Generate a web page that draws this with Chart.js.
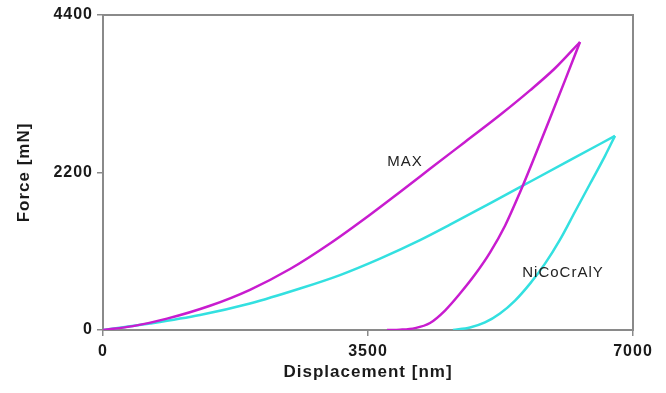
<!DOCTYPE html>
<html>
<head>
  <title>Load-displacement curves</title>
  <script src="https://cdn.jsdelivr.net/npm/chart.js"></script>
  <style>
    body {
      margin: 0;
      padding: 0;
      background: #fff;
    }
    canvas {
      display: block;
    }
  </style>
</head>
<body>
  <canvas id="indentChart" width="666" height="393"></canvas>

  <script>
    // axis ticks
    const xTicks = [0, 3500, 7000];
    const yTicks = [0, 2200, 4400];

    // MAX coating: loading and unloading branches (nm, mN)
    const maxLoadX = [0, 396, 845, 1413, 1941, 2470, 2998, 3527, 3923, 4319, 4781, 5243, 5640, 5970, 6300];
    const maxLoadY = [0, 54, 159, 339, 562, 852, 1209, 1611, 1929, 2251, 2627, 3003, 3347, 3656, 4023];
    const maxUnloadX = [3751, 3923, 4121, 4319, 4517, 4715, 4913, 5111, 5310, 5508, 5706, 5904, 6102, 6300];
    const maxUnloadY = [0, 4, 26, 98, 272, 509, 774, 1081, 1457, 1925, 2434, 2957, 3487, 4023];

    // NiCoCrAlY coating
    const nicoLoadX = [0, 291, 621, 1281, 1941, 2602, 3130, 3659, 4187, 4583, 5111, 5640, 6168, 6762];
    const nicoLoadY = [0, 42, 91, 209, 370, 579, 767, 997, 1255, 1471, 1770, 2071, 2372, 2712];
    const nicoUnloadX = [4623, 4847, 5045, 5243, 5442, 5640, 5838, 6036, 6234, 6433, 6631, 6762];
    const nicoUnloadY = [0, 35, 105, 230, 411, 648, 927, 1262, 1652, 2043, 2433, 2712];

    // curve labels placed at data coordinates
    const curveLabels = [
      { text: 'MAX', x: 3989, y: 2350 },
      { text: 'NiCoCrAlY', x: 6076, y: 802 }
    ];

    const magenta = '#c81ccf';
    const cyan = '#33e0e0';
    const axisGrey = '#8a8a8a';

    function toPoints(xs, ys) {
      return xs.map((x, i) => ({ x: x, y: ys[i] }));
    }

    function curve(xs, ys, color) {
      return {
        data: toPoints(xs, ys),
        borderColor: color,
        borderWidth: 2.5,
        showLine: true,
        pointRadius: 0,
        cubicInterpolationMode: 'monotone',
        fill: false
      };
    }

    const framePlugin = {
      id: 'frame',
      beforeDraw(chart) {
        chart.ctx.letterSpacing = '1px';
      },
      beforeDatasetsDraw(chart) {
        const { ctx, chartArea } = chart;
        ctx.save();
        ctx.strokeStyle = axisGrey;
        ctx.lineWidth = 2;
        ctx.strokeRect(chartArea.left, chartArea.top,
          chartArea.right - chartArea.left, chartArea.bottom - chartArea.top);
        ctx.restore();
      },
      afterDraw(chart) {
        const { ctx, chartArea, scales } = chart;
        ctx.save();
        ctx.fillStyle = '#1a1a1a';
        ctx.textAlign = 'center';
        ctx.textBaseline = 'middle';

        // axis titles
        ctx.font = 'bold 17px Arial, "Liberation Sans", sans-serif';
        ctx.fillText('Displacement [nm]', (chartArea.left + chartArea.right) / 2, 372);
        ctx.save();
        ctx.translate(24, (chartArea.top + chartArea.bottom) / 2);
        ctx.rotate(-Math.PI / 2);
        ctx.fillText('Force [mN]', 0, 0);
        ctx.restore();

        // curve names
        ctx.fillStyle = '#222';
        ctx.font = '15px Arial, "Liberation Sans", sans-serif';
        curveLabels.forEach(l => {
          ctx.fillText(l.text, scales.x.getPixelForValue(l.x), scales.y.getPixelForValue(l.y));
        });
        ctx.restore();
      }
    };

    const tickFont = { family: 'Arial, "Liberation Sans", sans-serif', size: 16, weight: 'bold' };

    new Chart(document.getElementById('indentChart'), {
      type: 'scatter',
      data: {
        datasets: [
          curve(maxLoadX, maxLoadY, magenta),
          curve(maxUnloadX, maxUnloadY, magenta),
          curve(nicoLoadX, nicoLoadY, cyan),
          curve(nicoUnloadX, nicoUnloadY, cyan)
        ]
      },
      options: {
        responsive: false,
        animation: false,
        layout: { padding: { top: 15, right: 33, left: 0, bottom: 0 } },
        plugins: {
          legend: { display: false },
          tooltip: { enabled: false }
        },
        scales: {
          x: {
            type: 'linear',
            min: xTicks[0],
            max: xTicks[xTicks.length - 1],
            afterFit(scale) { scale.height = 63; },
            afterBuildTicks(scale) { scale.ticks = xTicks.map(v => ({ value: v })); },
            border: { display: false },
            grid: { drawOnChartArea: false, drawTicks: true, tickLength: 6, color: axisGrey, lineWidth: 1.5 },
            ticks: { font: tickFont, color: '#1a1a1a', padding: 6, maxRotation: 0, callback: v => String(v) }
          },
          y: {
            type: 'linear',
            min: yTicks[0],
            max: yTicks[yTicks.length - 1],
            afterFit(scale) { scale.width = 103; },
            afterBuildTicks(scale) { scale.ticks = yTicks.map(v => ({ value: v })); },
            border: { display: false },
            grid: { drawOnChartArea: false, drawTicks: true, tickLength: 6, color: axisGrey, lineWidth: 1.5 },
            ticks: { font: tickFont, color: '#1a1a1a', padding: 4, callback: v => String(v) }
          }
        }
      },
      plugins: [framePlugin]
    });
  </script>
</body>
</html>
